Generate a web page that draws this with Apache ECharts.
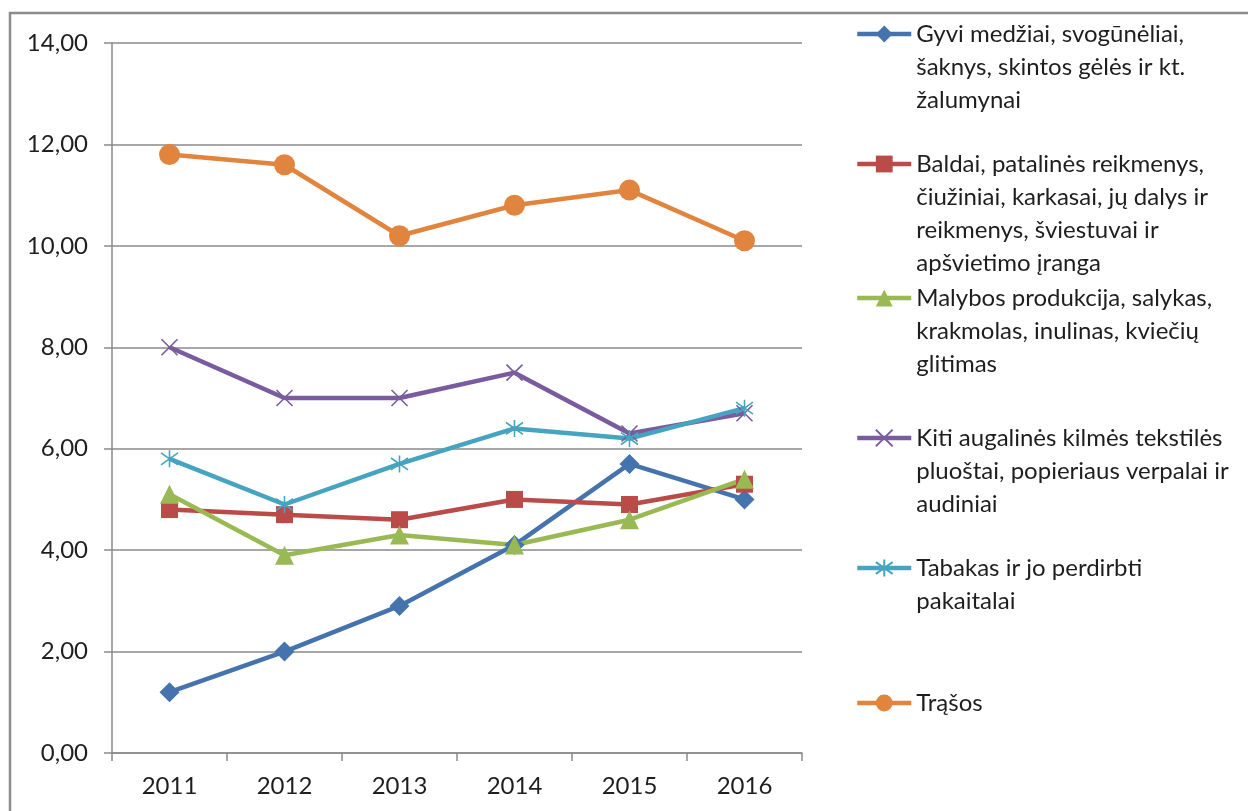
<!DOCTYPE html>
<html>
<head>
<meta charset="utf-8">
<script src="https://cdn.jsdelivr.net/npm/echarts@6/dist/echarts.min.js"></script>
<style>
  html, body { margin: 0; padding: 0; background: #fff; }
  #chart { width: 1248px; height: 811px; }
</style>
</head>
<body>
<div id="chart"></div>
<script>
// metai
let years = ['2011', '2012', '2013', '2014', '2015', '2016'];

let series_names = [
    'Gyvi medžiai, svogūnėliai,\nšaknys, skintos gėlės ir kt.\nžalumynai',
    'Baldai, patalinės reikmenys,\nčiužiniai, karkasai, jų dalys ir\nreikmenys, šviestuvai ir\napšvietimo įranga',
    'Malybos produkcija, salykas,\nkrakmolas, inulinas, kviečių\nglitimas',
    'Kiti augalinės kilmės tekstilės\npluoštai, popieriaus verpalai ir\naudiniai',
    'Tabakas ir jo perdirbti\npakaitalai',
    'Trąšos'
];

let gyvi = [1.2, 2.0, 2.9, 4.1, 5.7, 5.0];
let baldai = [4.8, 4.7, 4.6, 5.0, 4.9, 5.3];
let malybos = [5.1, 3.9, 4.3, 4.1, 4.6, 5.4];
let kiti = [8.0, 7.0, 7.0, 7.5, 6.3, 6.7];
let tabakas = [5.8, 4.9, 5.7, 6.4, 6.2, 6.8];
let trasos = [11.8, 11.6, 10.2, 10.8, 11.1, 10.1];

let y_ticks = [0, 2, 4, 6, 8, 10, 12, 14];

let values = [gyvi, baldai, malybos, kiti, tabakas, trasos];
let colors = ['#4573AE', '#BA4B48', '#98B954', '#7A5C9E', '#47A4C0', '#E1843E'];
let symbols = [
    'diamond',
    'rect',
    'triangle',
    'path://M0,0L10,10M10,0L0,10',
    'path://M5,0L5,10M1.5,1.5L8.5,8.5M8.5,1.5L1.5,8.5',
    'circle'
];
let symbol_sizes = [20, 17, 19, 16, 17, 21];

const FONT = 'Lato';
const LINE_H = 33;
// legend icon centers (y) on the right side
let legend_centers = [34, 164, 298, 438, 568, 703];

let format_num = function (v) {
    return v.toFixed(2).replace('.', ',');
};

let series = values.map(function (data, i) {
    let stroke_only = i === 3 || i === 4;
    return {
        name: series_names[i],
        type: 'line',
        data: data,
        symbol: symbols[i],
        symbolSize: symbol_sizes[i],
        showAllSymbol: true,
        lineStyle: {color: colors[i], width: 4.5},
        itemStyle: stroke_only
            ? {color: colors[i], borderColor: colors[i], borderWidth: 1.6}
            : {color: colors[i], borderWidth: 0},
        emphasis: {disabled: true}
    };
});

// multi-line legend text: pad with empty lines in front so the icon sits on the first line
let legends = series_names.map(function (name, i) {
    let n = name.split('\n').length;
    return {
        data: [name],
        left: 855,
        top: legend_centers[i] - (2 * n - 1) * LINE_H / 2,
        padding: 0,
        itemWidth: 54,
        itemHeight: 21,
        selectedMode: false,
        lineStyle: {width: 4.5},
        formatter: function (s) {
            return '\n'.repeat(n - 1) + s;
        },
        textStyle: {
            fontFamily: FONT,
            fontSize: 24,
            color: '#1e1e1e',
            lineHeight: LINE_H
        }
    };
});

let chart = echarts.init(document.getElementById('chart'));

let option = {
    backgroundColor: '#fff',
    animation: false,
    color: colors,
    grid: {
        left: 112,
        right: 446,
        top: 43,
        bottom: 58,
        containLabel: false
    },
    legend: legends,
    xAxis: {
        type: 'category',
        data: years,
        boundaryGap: true,
        axisLine: {lineStyle: {color: '#8a8a8a', width: 1.5}},
        axisTick: {show: true, length: 8, lineStyle: {color: '#8a8a8a', width: 1.5}},
        axisLabel: {
            margin: 21,
            fontFamily: FONT,
            fontSize: 24,
            color: '#1e1e1e'
        },
        splitLine: {show: false}
    },
    yAxis: {
        type: 'value',
        min: y_ticks[0],
        max: y_ticks[y_ticks.length - 1],
        interval: 2,
        axisLine: {show: true, lineStyle: {color: '#8a8a8a', width: 1.5}},
        axisTick: {show: true, length: 8, lineStyle: {color: '#8a8a8a', width: 1.5}},
        axisLabel: {
            margin: 24,
            fontFamily: FONT,
            fontSize: 24,
            color: '#1e1e1e',
            formatter: format_num
        },
        splitLine: {show: true, lineStyle: {color: '#8a8a8a', width: 1.5}}
    },
    graphic: [{
        type: 'rect',
        silent: true,
        z: -1,
        shape: {x: 10, y: 13, width: 1260, height: 830},
        style: {fill: 'none', stroke: '#8c8c8c', lineWidth: 2.5}
    }],
    series: series
};

chart.setOption(option);
</script>
</body>
</html>
